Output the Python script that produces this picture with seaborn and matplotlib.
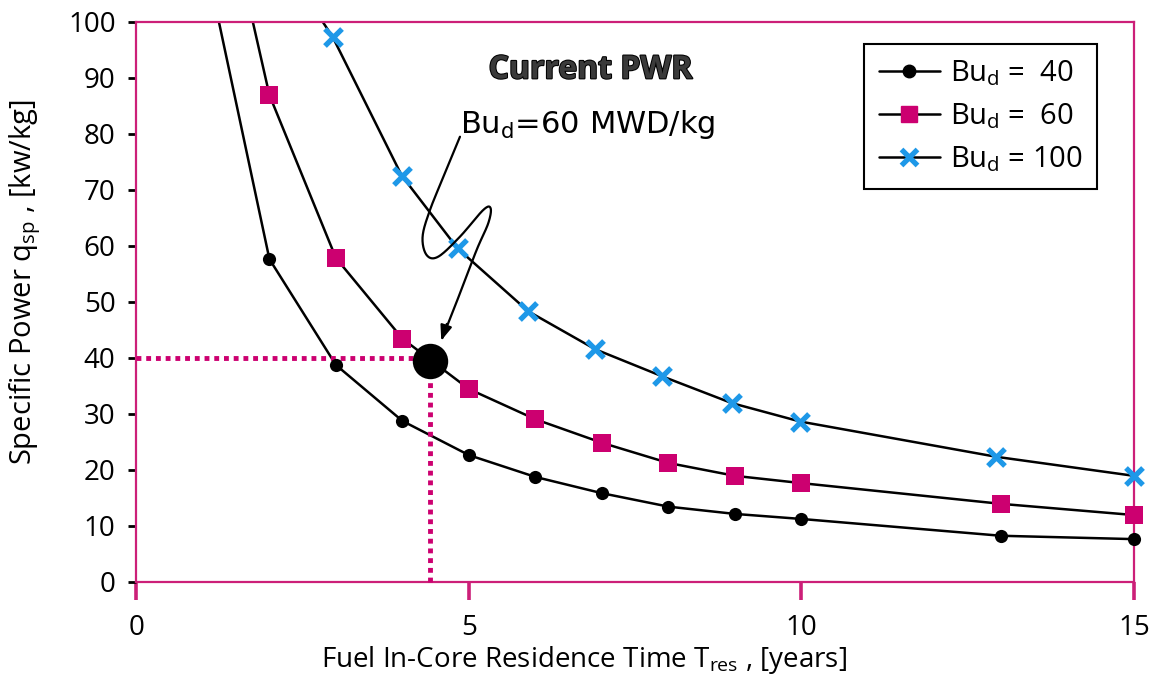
import numpy as np
import pandas as pd
import matplotlib
matplotlib.use("Agg")
import matplotlib.pyplot as plt
import matplotlib.patheffects as pe
from matplotlib.lines import Line2D
import seaborn as sns

# ---------------- data ----------------
t_bu40 = [2, 3, 4, 5, 6, 7, 8, 9, 10, 13, 15]
q_bu40 = [57.6, 38.7, 28.7, 22.6, 18.7, 15.8, 13.4, 12.1, 11.2, 8.2, 7.6]
t_bu60 = [2, 3, 4, 5, 6, 7, 8, 9, 10, 13, 15]
q_bu60 = [86.9, 57.8, 43.4, 34.4, 29.0, 24.8, 21.2, 18.9, 17.6, 13.9, 11.9]
t_bu100 = [2.95, 3.99, 4.83, 5.89, 6.9, 7.9, 8.95, 9.98, 12.93, 15]
q_bu100 = [97.3, 72.5, 59.5, 48.3, 41.5, 36.7, 31.9, 28.6, 22.3, 18.9]
# where each curve leaves the top of the plot (line only, no marker)
t_top = [1.24, 1.75, 2.80]
q_top = [100, 100, 100]

series_names = ["Bu$_{d}$ =  40", "Bu$_{d}$ =  60", "Bu$_{d}$ = 100"]

# highlighted design point
t_point = [4.41]
q_point = [39.4]
q_ref_line = 40

x_ticks = [0, 5, 10, 15]
y_ticks = [0, 10, 20, 30, 40, 50, 60, 70, 80, 90, 100]

title_text = "Current PWR"
note_text = "Bu$_{d}$=60 MWD/kg"
x_label = "Fuel In-Core Residence Time T$_{res}$ , [years]"
y_label = "Specific Power q$_{sp}$ , [kw/kg]"

# ---------------- style ----------------
sns.set_style("white")
plt.rcParams["font.family"] = ["Open Sans", "DejaVu Sans"]
plt.rcParams["mathtext.default"] = "regular"
plt.rcParams["text.color"] = "black"
plt.rcParams["axes.labelcolor"] = "black"

PINK = "#CC1F78"
MAG = "#CC0070"
BLUE = "#1E98E8"

fig = plt.figure(figsize=(11.56, 6.87), dpi=100)
fig.patch.set_facecolor("white")
ax = fig.add_axes([0.118, 0.1533, 0.863, 0.8151])

tset = [t_bu40, t_bu60, t_bu100]
qset = [q_bu40, q_bu60, q_bu100]
markers = ["o", "s", "x"]
colors = ["black", MAG, BLUE]
sizes = [90, 150, 150]

for i in range(3):
    df = pd.DataFrame({"T": [t_top[i]] + tset[i], "q": [q_top[i]] + qset[i]})
    sns.lineplot(data=df, x="T", y="q", color="black", lw=1.8, ax=ax,
                 zorder=2, legend=False)
    dm = pd.DataFrame({"T": tset[i], "q": qset[i]})
    if markers[i] == "x":
        sns.scatterplot(data=dm, x="T", y="q", marker="x", s=sizes[i],
                        color=colors[i], linewidth=3.8, ax=ax, zorder=4,
                        legend=False, clip_on=False)
    else:
        sns.scatterplot(data=dm, x="T", y="q", marker=markers[i], s=sizes[i],
                        color=colors[i], edgecolor=colors[i], linewidth=0,
                        ax=ax, zorder=4, legend=False, clip_on=False)

# dotted reference lines to the design point
ax.plot([0, t_point[0]], [q_ref_line, q_ref_line], color=MAG, lw=3.5,
        linestyle=(0, (1.0, 1.0)), zorder=3, clip_on=False)
ax.plot([t_point[0], t_point[0]], [0, q_ref_line], color=MAG, lw=3.5,
        linestyle=(0, (1.0, 1.0)), zorder=3, clip_on=False)
sns.scatterplot(x=t_point, y=q_point, s=650, color="black", linewidth=0,
                ax=ax, zorder=5, legend=False)

# curly annotation arrow (Catmull-Rom through guide points)
guide = np.array([
    (4.865, 79.46), (4.638, 72.92), (4.414, 66.38), (4.303, 61.61),
    (4.363, 58.34), (4.538, 58.04), (4.865, 61.61), (5.215, 66.38),
    (5.326, 66.68), (5.290, 64.0), (5.115, 59.23), (4.865, 51.50),
    (4.600, 43.5)])
pts = np.vstack([guide[0], guide, guide[-1]])
curve = []
for k in range(1, len(pts) - 2):
    p0, p1, p2, p3 = pts[k - 1], pts[k], pts[k + 1], pts[k + 2]
    for s in np.linspace(0, 1, 20, endpoint=False):
        curve.append(0.5 * ((2 * p1) + (-p0 + p2) * s +
                            (2 * p0 - 5 * p1 + 4 * p2 - p3) * s ** 2 +
                            (-p0 + 3 * p1 - 3 * p2 + p3) * s ** 3))
curve.append(guide[-1])
curve = np.array(curve)
ax.plot(curve[:, 0], curve[:, 1], color="black", lw=1.6, zorder=6)
ax.annotate("", xy=(4.57, 42.6), xytext=(4.68, 46.5),
            arrowprops=dict(arrowstyle="-|>,head_length=0.9,head_width=0.35",
                            color="black", lw=1.6), zorder=7)

ax.text(4.865, 80.1, note_text, family="DejaVu Sans", fontsize=22,
        color="black", ha="left", va="baseline", zorder=6)

# title with outline
ax.text(6.83, 91.4, title_text, fontsize=23, fontweight="bold",
        family="Open Sans", color="#3a3a3a", ha="center", va="center",
        path_effects=[pe.withStroke(linewidth=1.5, foreground="black")],
        zorder=6)

# axes styling
ax.set_xlim(0, 15)
ax.set_ylim(0, 100)
ax.set_xticks(x_ticks)
ax.set_yticks(y_ticks)
ax.set_xticklabels([str(v) for v in x_ticks])
ax.set_yticklabels([str(v) for v in y_ticks])
for sp in ax.spines.values():
    sp.set_color(PINK)
    sp.set_linewidth(1.6)
    sp.set_visible(True)
ax.tick_params(axis="y", direction="out", length=6, width=2, color="black",
               labelcolor="black", labelsize=20, pad=9, left=True)
ax.tick_params(axis="x", direction="out", length=13, width=2.6, color=PINK,
               labelcolor="black", labelsize=20, pad=10, bottom=True)

ax.set_xlabel(x_label, fontsize=20)
ax.set_ylabel(y_label, fontsize=21)
ax.xaxis.set_label_coords(0.449, -0.14)
ax.xaxis.label.set_va("center")
ax.yaxis.set_label_coords(-0.112, 0.535)
ax.yaxis.label.set_va("center")

handles = [
    Line2D([], [], color="black", lw=1.8, marker="o", ms=9, mfc="black", mec="black"),
    Line2D([], [], color="black", lw=1.8, marker="s", ms=11, mfc=MAG, mec=MAG),
    Line2D([], [], color="black", lw=1.8, marker="x", ms=11, mew=3.8, mec=BLUE),
]
leg = ax.legend(handles, series_names, loc="upper right",
                bbox_to_anchor=(0.963, 0.960), borderaxespad=0,
                fontsize=21, frameon=True, fancybox=False, framealpha=1,
                edgecolor="black", handlelength=2.1, handletextpad=0.35,
                labelspacing=0.45, borderpad=0.5)
leg.get_frame().set_linewidth(1.5)

fig.savefig("out.png", dpi=100, facecolor="white")
